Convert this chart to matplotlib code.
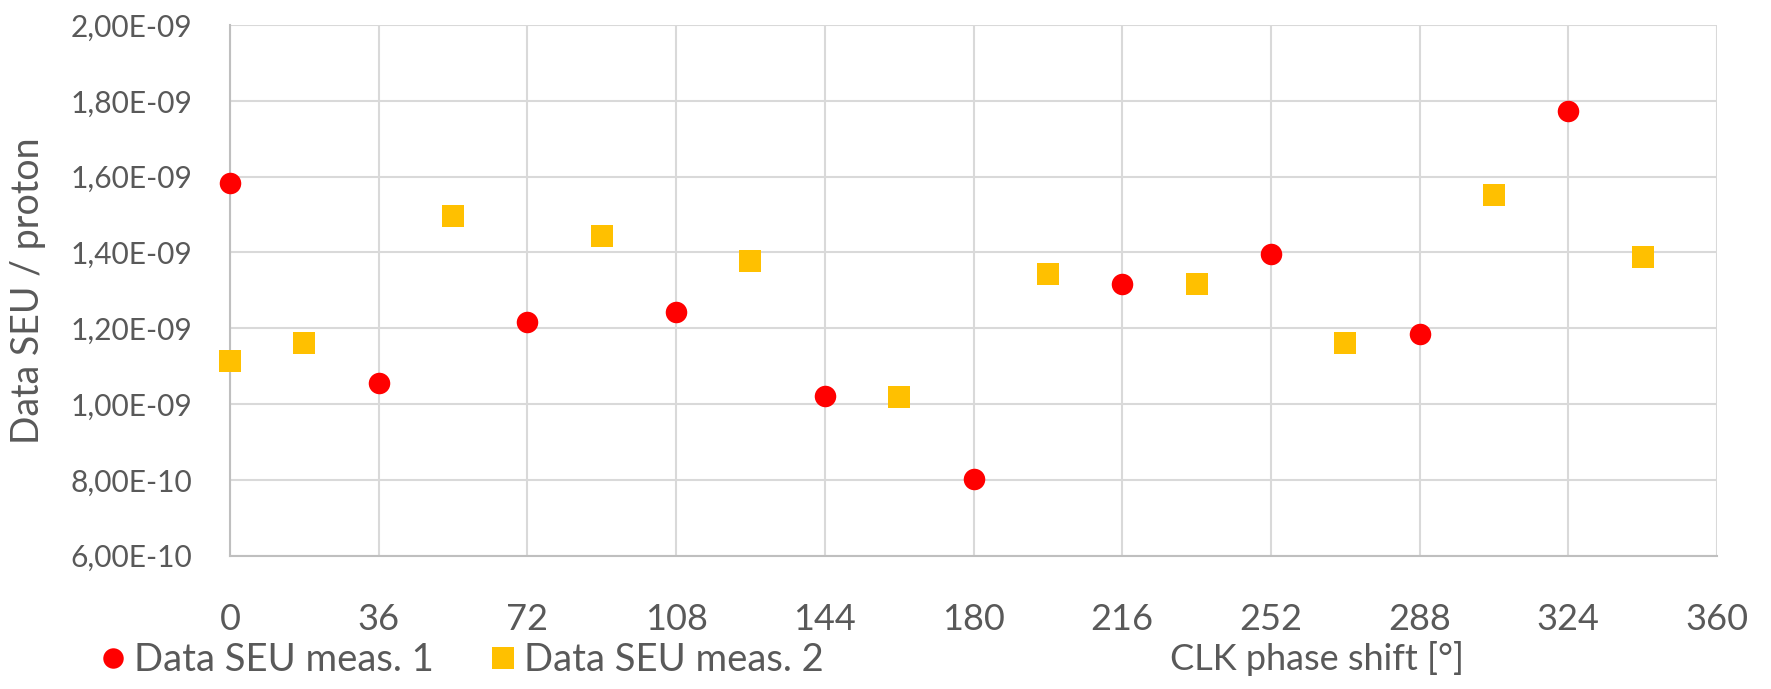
import matplotlib
matplotlib.use('Agg')
import matplotlib.pyplot as plt
from matplotlib.ticker import FixedLocator, FuncFormatter

# CLK phase shift [deg] and measured SEU cross-section per proton
phase_meas1 = [0, 36, 72, 108, 144, 180, 216, 252, 288, 324]
seu_meas1 = [1.584e-9, 1.055e-9, 1.216e-9, 1.243e-9, 1.021e-9,
             0.803e-9, 1.317e-9, 1.395e-9, 1.185e-9, 1.773e-9]

phase_meas2 = [0, 18, 54, 90, 126, 162, 198, 234, 270, 306, 342]
seu_meas2 = [1.113e-9, 1.162e-9, 1.497e-9, 1.444e-9, 1.378e-9, 1.018e-9,
             1.344e-9, 1.317e-9, 1.160e-9, 1.551e-9, 1.388e-9]

x_ticks = [0, 36, 72, 108, 144, 180, 216, 252, 288, 324, 360]
y_ticks = [6e-10, 8e-10, 1e-9, 1.2e-9, 1.4e-9, 1.6e-9, 1.8e-9, 2e-9]

label_meas1 = 'Data SEU meas. 1'
label_meas2 = 'Data SEU meas. 2'

txt = '#595959'
grid_c = '#d9d9d9'
plt.rcParams['font.family'] = ['Lato', 'DejaVu Sans']


def excel_sci(v, pos):
    # Excel-style "0,00E+00" labels
    s = f'{v:.2E}'
    mant, exp = s.split('E')
    sign = exp[0]
    e = int(exp[1:])
    return f'{mant.replace(".", ",")}E{sign}{e:02d}'


fig = plt.figure(figsize=(17.71, 6.89), dpi=100)
ax = fig.add_axes([0.1299, 0.1935, 0.8396, 0.7702])

ax.plot(phase_meas1, seu_meas1, linestyle='none', marker='o', markersize=15.5,
        markeredgewidth=0, color='#ff0000', label=label_meas1, zorder=3, clip_on=False)
ax.plot(phase_meas2, seu_meas2, linestyle='none', marker='s', markersize=16.5,
        markeredgewidth=0, color='#ffc000', label=label_meas2, zorder=3, clip_on=False)

ax.set_xlim(0, 360)
ax.set_ylim(6e-10, 2e-9)
ax.xaxis.set_major_locator(FixedLocator(x_ticks))
ax.yaxis.set_major_locator(FixedLocator(y_ticks))
ax.yaxis.set_major_formatter(FuncFormatter(excel_sci))

ax.grid(True, color=grid_c, linewidth=1.5, zorder=0)
ax.set_axisbelow(True)
for side in ['top', 'right']:
    ax.spines[side].set_visible(False)
for side in ['left', 'bottom']:
    ax.spines[side].set_color('#bfbfbf')
    ax.spines[side].set_linewidth(1.5)

ax.tick_params(axis='both', length=0, colors=txt)
ax.tick_params(axis='y', labelsize=21.5, pad=27)
ax.tick_params(axis='x', labelsize=26, pad=34)

ax.set_ylabel('Data SEU / proton', fontsize=27, color=txt)
ax.yaxis.set_label_coords(-0.124, 0.5)

fig.text(0.7437, 0.044, 'CLK phase shift [°]', fontsize=26, color=txt,
         ha='center', va='center')

fig.legend(loc='center left', bbox_to_anchor=(0.0573, 0.042), ncol=2, frameon=False,
           fontsize=27.5, labelcolor=txt, handlelength=0.6, handletextpad=0.25,
           columnspacing=1.5, markerscale=0.95, borderaxespad=0, borderpad=0)

fig.savefig('out.png', dpi=100)
